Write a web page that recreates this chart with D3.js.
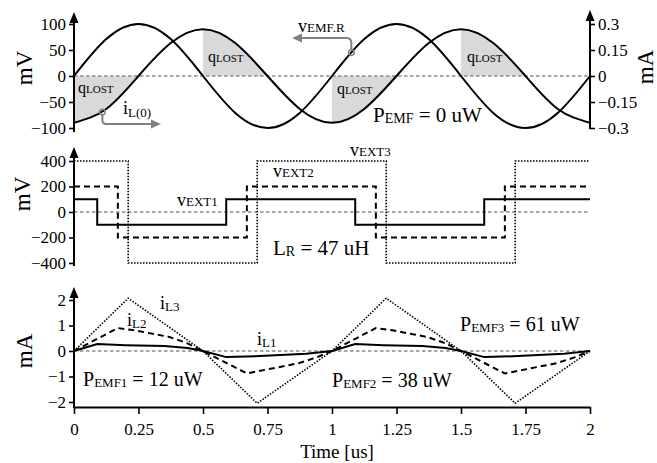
<!DOCTYPE html>
<html>
<head>
<meta charset="utf-8">
<script src="https://cdn.jsdelivr.net/npm/d3@7"></script>
<style>
  body{ margin:0; padding:0; background:white; }
  svg text{ font-family:"Liberation Serif","Times New Roman",serif; fill:black; white-space:pre; }
</style>
</head>
<body>
<svg id="chart" width="657" height="463"></svg>
<script>
// ---- data (time in us) ----
var tSine   = [0,0.125,0.25,0.375,0.5,0.625,0.75,0.875,1,1.125,1.25,1.375,1.5,1.625,1.75,1.875,2];
var vEmfR   = [0,71,100,71,0,-71,-100,-71,0,71,100,71,0,-71,-100,-71,0];             // mV
var iLsine  = [-0.27,-0.19,0,0.19,0.27,0.19,0,-0.19,-0.27,-0.19,0,0.19,0.27,0.19,0,-0.19,-0.27]; // mA
var lostFrom = [0,0.5,1,1.5];
var lostTo   = [0.25,0.75,1.25,1.75];

var tExt1 = [0,0.09,0.59,1.09,1.59,2];  var vExt1 = [100,-100,100,-100,100,100];
var tExt2 = [0,0.17,0.67,1.17,1.67,2];  var vExt2 = [200,-200,200,-200,200,200];
var tExt3 = [0,0.21,0.71,1.21,1.71,2];  var vExt3 = [400,-400,400,-400,400,400];

var tIL1 = [0,0.09,0.2,0.35,0.44,0.5,0.59,0.72,0.9,1,1.09,1.2,1.35,1.44,1.5,1.59,1.72,1.9,2];
var iL1  = [0,0.27,0.23,0.2,0.12,0,-0.24,-0.2,-0.11,0,0.27,0.23,0.2,0.12,0,-0.24,-0.2,-0.11,0];
var tIL2 = [0,0.17,0.24,0.37,0.44,0.5,0.67,0.75,0.87,0.94,1,1.17,1.24,1.37,1.44,1.5,1.67,1.75,1.87,1.94,2];
var iL2  = [0,0.9,0.8,0.55,0.3,0,-0.88,-0.72,-0.48,-0.25,0,0.9,0.8,0.55,0.3,0,-0.88,-0.72,-0.48,-0.25,0];
var tIL3 = [0,0.21,0.5,0.71,1,1.21,1.5,1.71,2];
var iL3  = [0,2.07,0,-2.05,0,2.07,0,-2.05,0];

var timeTicks = [0,0.25,0.5,0.75,1,1.25,1.5,1.75,2];
var topTicksL = [100,50,0,-50,-100];
var topTicksR = [0.3,0.15,0,-0.15,-0.3];
var midTicks  = [400,200,0,-200,-400];
var botTicks  = [2,1,0,-1,-2];

// ---- scales ----
var svg = d3.select("#chart");
var x     = d3.scaleLinear().domain([0,2]).range([74,590]);
var yTop  = d3.scaleLinear().domain([-100,100]).range([128,24]);
var yTopR = d3.scaleLinear().domain([-0.3,0.3]).range([128,24]);
var yMid  = d3.scaleLinear().domain([-400,400]).range([263,161]);
var yBot  = d3.scaleLinear().domain([-2,2]).range([402,300]);
var fmt = d3.format("~g");
var grey = "#808080";

function pairs(ts, vs){ return ts.map(function(t,i){ return [t, vs[i]]; }); }

function curve(ts, vs, y, c, dash, w){
  var line = d3.line().x(function(d){ return x(d[0]); }).y(function(d){ return y(d[1]); }).curve(c);
  var p = svg.append("path").attr("d", line(pairs(ts, vs)))
    .attr("fill","none").attr("stroke","black").attr("stroke-width", w || 2);
  if (dash) p.attr("stroke-dasharray", dash);
  return p;
}

function zeroLine(y){
  svg.append("line").attr("x1",x(0)).attr("x2",x(2)).attr("y1",y(0)).attr("y2",y(0))
    .attr("stroke","#8c8c8c").attr("stroke-width",1.5).attr("stroke-dasharray","3.5,2.5");
}

function arrowAxis(xp, yTip, yEnd){
  svg.append("line").attr("x1",xp).attr("x2",xp).attr("y1",yEnd).attr("y2",yTip+6)
    .attr("stroke","black").attr("stroke-width",2);
  svg.append("path").attr("d","M"+xp+","+yTip+"l-4.5,11h9z").attr("fill","black");
}

function styleAxis(g){
  g.attr("font-family",null).attr("font-size",null);
  g.selectAll("text").style("font-size","17px");
  g.selectAll(".tick line").attr("stroke-width",1.6);
}

function label(xp, yp, main, sub, rest, fs, ss, dy){
  var t = svg.append("text").attr("x",xp).attr("y",yp).style("font-size",fs+"px");
  t.append("tspan").text(main);
  t.append("tspan").attr("dy",dy).style("font-size",ss+"px").text(sub);
  if (rest) t.append("tspan").attr("dy",-dy).text(rest);
  return t;
}

function axisTitle(xp, yp, s){
  svg.append("text").attr("transform","translate("+xp+","+yp+") rotate(-90)")
    .attr("text-anchor","middle").style("font-size","23px").text(s);
}

// ---- top panel ----
var clip = svg.append("defs").append("clipPath").attr("id","lost");
lostFrom.forEach(function(t0,i){
  clip.append("rect").attr("x",x(t0)).attr("width",x(lostTo[i])-x(t0)).attr("y",0).attr("height",150);
});
var area = d3.area().x(function(d){ return x(d[0]); }).y0(yTopR(0)).y1(function(d){ return yTopR(d[1]); })
  .curve(d3.curveNatural);
svg.append("path").attr("d", area(pairs(tSine, iLsine))).attr("fill","#d9d9d9").attr("clip-path","url(#lost)");
zeroLine(yTop);
curve(tSine, vEmfR, yTop, d3.curveNatural);
curve(tSine, iLsine, yTopR, d3.curveNatural);

var gL = svg.append("g").attr("transform","translate("+x(0)+",0)")
  .call(d3.axisLeft(yTop).tickValues(topTicksL).tickFormat(fmt).tickSize(5).tickPadding(3));
gL.select(".domain").remove(); styleAxis(gL);
arrowAxis(x(0), 12, 132);
var gR = svg.append("g").attr("transform","translate("+x(2)+",0)")
  .call(d3.axisRight(yTopR).tickValues(topTicksR).tickFormat(fmt).tickSize(5).tickPadding(3));
gR.select(".domain").remove(); styleAxis(gR);
arrowAxis(x(2), 10, 129);
axisTitle(32, 68, "mV");
axisTitle(653, 67, "mA");

[[78,93],[208,62],[337,94],[467,62]].forEach(function(p){
  label(p[0], p[1], "q", "LOST", null, 16, 11, 0);
});
label(373, 122, "P", "EMF", " = 0 uW", 21, 14, 1);

// v_EMF.R pointer
var cE = [x(1.075), yTop(45)];
svg.append("circle").attr("cx",cE[0]).attr("cy",cE[1]).attr("r",2.8)
  .attr("fill","none").attr("stroke",grey).attr("stroke-width",1.5);
svg.append("path").attr("d","M"+cE[0]+","+(cE[1]-2.8)+"V43Q"+cE[0]+",38 "+(cE[0]-5)+",38H301")
  .attr("fill","none").attr("stroke",grey).attr("stroke-width",2);
svg.append("path").attr("d","M292,38l10,-4.5v9z").attr("fill",grey);
label(298, 32, "v", "EMF.R", null, 18, 13, 0);

// i_L(0) pointer
var cI = [x(0.11), yTopR(-0.208)];
svg.append("circle").attr("cx",cI[0]).attr("cy",cI[1]).attr("r",2.8)
  .attr("fill","none").attr("stroke",grey).attr("stroke-width",1.5);
svg.append("path").attr("d","M"+cI[0]+","+(cI[1]+2.8)+"V120Q"+cI[0]+",124 "+(cI[0]+4)+",124H152")
  .attr("fill","none").attr("stroke",grey).attr("stroke-width",2);
svg.append("path").attr("d","M161,124l-10,-4.5v9z").attr("fill",grey);
label(123, 114, "i", "L(0)", null, 18, 13, 3);

// ---- middle panel ----
zeroLine(yMid);
curve(tExt3, vExt3, yMid, d3.curveStepAfter, "1.5,1.5", 1.6);
curve(tExt2, vExt2, yMid, d3.curveStepAfter, "6,4", 2);
curve(tExt1, vExt1, yMid, d3.curveStepAfter, null, 2);
var gM = svg.append("g").attr("transform","translate("+x(0)+",0)")
  .call(d3.axisLeft(yMid).tickValues(midTicks).tickFormat(fmt).tickSize(5).tickPadding(3));
gM.select(".domain").remove(); styleAxis(gM);
arrowAxis(x(0), 147, 266);
axisTitle(30, 194, "mV");
label(177, 206, "v", "EXT1", null, 18, 13, 0);
label(273, 177, "v", "EXT2", null, 18, 13, 0);
label(350, 156, "v", "EXT3", null, 18, 13, 0);
label(273, 255, "L", "R", " = 47 uH", 21, 14, 1);

// ---- bottom panel ----
zeroLine(yBot);
curve(tIL3, iL3, yBot, d3.curveLinear, "1.5,1.5", 1.6);
curve(tIL2, iL2, yBot, d3.curveLinear, "6,4", 2);
curve(tIL1, iL1, yBot, d3.curveLinear, null, 2);
var gB = svg.append("g").attr("transform","translate("+x(0)+",0)")
  .call(d3.axisLeft(yBot).tickValues(botTicks).tickFormat(fmt).tickSize(5).tickPadding(3));
gB.select(".domain").remove(); styleAxis(gB);
arrowAxis(x(0), 287, 408);
var gX = svg.append("g").attr("transform","translate(0,407)")
  .call(d3.axisBottom(x).tickValues(timeTicks).tickFormat(fmt).tickSize(7).tickSizeOuter(0).tickPadding(9));
styleAxis(gX);
gX.select(".domain").attr("stroke-width",2);
axisTitle(32, 351, "mA");
svg.append("text").attr("x",337).attr("y",458).attr("text-anchor","middle").style("font-size","19px").text("Time [us]");

label(160, 309, "i", "L3", null, 18, 13, 2);
label(127, 326, "i", "L2", null, 18, 13, 2);
label(257, 345, "i", "L1", null, 18, 13, 2);
label(83, 386, "P", "EMF1", " = 12 uW", 20, 13, 1);
label(332, 387, "P", "EMF2", " = 38 uW", 20, 13, 1);
label(460, 331, "P", "EMF3", " = 61 uW", 20, 13, 1);
</script>
</body>
</html>
